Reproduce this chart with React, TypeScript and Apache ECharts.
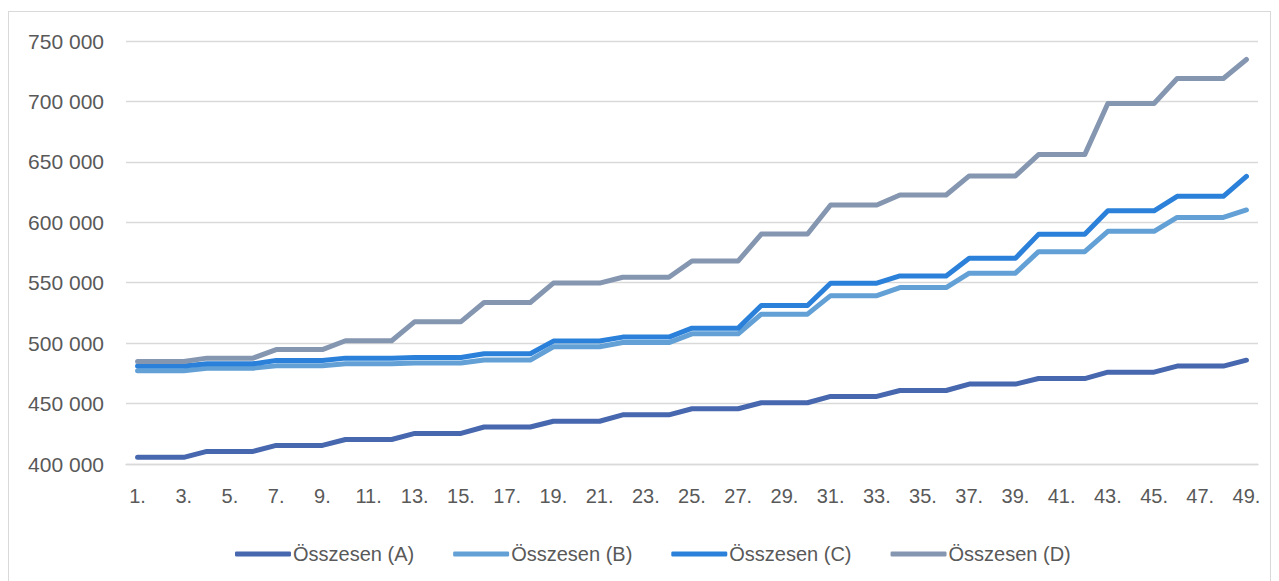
import React, { useEffect, useRef } from "react";
import * as echarts from "echarts";

const categories = [
  "1.", "2.", "3.", "4.", "5.", "6.", "7.", "8.", "9.", "10.",
  "11.", "12.", "13.", "14.", "15.", "16.", "17.", "18.", "19.", "20.",
  "21.", "22.", "23.", "24.", "25.", "26.", "27.", "28.", "29.", "30.",
  "31.", "32.", "33.", "34.", "35.", "36.", "37.", "38.", "39.", "40.",
  "41.", "42.", "43.", "44.", "45.", "46.", "47.", "48.", "49.",
];

const seriesA = [
  405500, 405500, 405500, 410400, 410400, 410400, 415400, 415400, 415400, 420300,
  420300, 420300, 425300, 425300, 425300, 430600, 430600, 430600, 435400, 435400,
  435400, 440700, 440700, 440700, 445700, 445700, 445700, 450700, 450700, 450700,
  455900, 455900, 455900, 460800, 460800, 460800, 466100, 466100, 466100, 470700,
  470700, 470700, 476000, 476000, 476000, 481000, 481000, 481000, 485900,
];

const seriesB = [
  477100, 477100, 477100, 479300, 479300, 479300, 481200, 481200, 481200, 482900,
  482900, 482900, 483500, 483500, 483500, 486000, 486000, 486000, 497000, 497000,
  497000, 500500, 500500, 500500, 507700, 507700, 507700, 524000, 524000, 524000,
  539300, 539300, 539300, 546000, 546000, 546000, 557900, 557900, 557900, 575700,
  575700, 575700, 592500, 592500, 592500, 604000, 604000, 604000, 610200,
];

const seriesC = [
  481000, 481000, 481000, 482900, 482900, 482900, 485600, 485600, 485600, 487600,
  487600, 487600, 488100, 488100, 488100, 491200, 491200, 491200, 501700, 501700,
  501700, 505000, 505000, 505000, 512400, 512400, 512400, 531100, 531100, 531100,
  549600, 549600, 549600, 555600, 555600, 555600, 570200, 570200, 570200, 590000,
  590000, 590000, 609500, 609500, 609500, 621500, 621500, 621500, 638000,
];

const seriesD = [
  484800, 484800, 484800, 487600, 487600, 487600, 494700, 494700, 494700, 502000,
  502000, 502000, 517800, 517800, 517800, 533600, 533600, 533600, 549700, 549700,
  549700, 554500, 554500, 554500, 568000, 568000, 568000, 590300, 590300, 590300,
  614300, 614300, 614300, 622600, 622600, 622600, 638400, 638400, 638400, 656000,
  656000, 656000, 698300, 698300, 698300, 719000, 719000, 719000, 734700,
];

const seriesNames = ["Összesen (A)", "Összesen (B)", "Összesen (C)", "Összesen (D)"];
const seriesColors = ["#4767ae", "#62a0d6", "#2b81d9", "#8596b0"];

const FONT = "'Liberation Sans', Arial, sans-serif";

export default function App() {
  const ref = useRef<HTMLDivElement>(null);

  useEffect(() => {
    document.documentElement.style.overflow = "hidden";
    if (!ref.current) return;
    const chart = echarts.init(ref.current, null, { renderer: "svg" });
    const dataSets = [seriesA, seriesB, seriesC, seriesD];
    chart.setOption({
      animation: false,
      backgroundColor: "#ffffff",
      grid: { left: 117, top: 29, width: 1132, height: 423, containLabel: false },
      legend: {
        left: 221,
        top: 527,
        itemWidth: 56,
        itemHeight: 5,
        itemGap: 39,
        icon: "roundRect",
        textStyle: {
          fontFamily: FONT,
          fontSize: 20,
          color: "#595959",
          lineHeight: 20,
          padding: [0, 0, 0, -3],
        },
        data: seriesNames,
      },
      xAxis: {
        type: "category",
        data: categories,
        boundaryGap: true,
        axisLine: { show: true, lineStyle: { color: "#d9d9d9", width: 1.3 } },
        axisTick: { show: false },
        axisLabel: {
          interval: 1,
          color: "#595959",
          fontFamily: FONT,
          fontSize: 20,
          margin: 22,
        },
        splitLine: { show: false },
      },
      yAxis: {
        type: "value",
        min: 400000,
        max: 750000,
        interval: 50000,
        axisLine: { show: false },
        axisTick: { show: false },
        axisLabel: {
          color: "#595959",
          fontFamily: FONT,
          fontSize: 21,
          margin: 22,
          formatter: (v: number) => {
            const s = String(Math.round(v));
            return s.replace(/\B(?=(\d{3})+(?!\d))/g, " ");
          },
        },
        splitLine: { lineStyle: { color: "#d9d9d9", width: 1.3 } },
      },
      series: dataSets.map((d, i) => ({
        name: seriesNames[i],
        type: "line",
        data: d,
        symbol: "none",
        color: seriesColors[i],
        itemStyle: { color: seriesColors[i] },
        lineStyle: { width: 5, color: seriesColors[i], cap: "round", join: "round" },
      })),
    });
    return () => chart.dispose();
  }, []);

  return (
    <div
      style={{
        width: 1263,
        height: 580,
        marginTop: 3,
        border: "1px solid #d9d9d9",
        boxSizing: "border-box",
        background: "#fff",
      }}
    >
      <div ref={ref} style={{ width: 1261, height: 578 }} />
    </div>
  );
}
